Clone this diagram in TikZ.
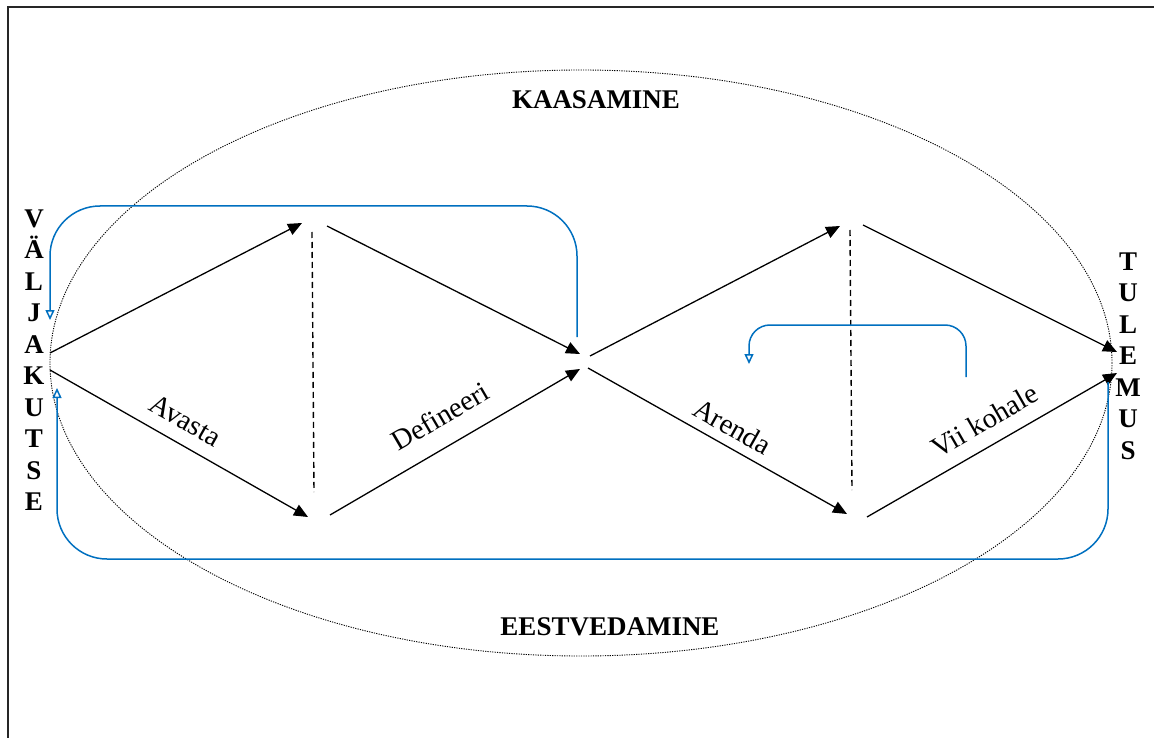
\documentclass[tikz,border=0pt]{standalone}
\usepackage{fontspec}
\setmainfont{Liberation Serif}
\usetikzlibrary{arrows.meta}
\definecolor{loopblue}{RGB}{0,112,192}
\begin{document}
\begin{tikzpicture}[x=1pt,y=-1pt,
  flow/.style={line width=1.3pt, -{Triangle[length=14pt,width=12pt]}},
  phase/.style={font=\fontsize{28.5}{32}\selectfont, sloped, inner sep=0pt},
  divider/.style={line width=1.4pt, dash pattern=on 6pt off 4pt},
  loop/.style={draw=loopblue, line width=1.5pt, -{Triangle[open,length=10pt,width=9pt]}},
  heading/.style={font=\fontsize{27}{31.5}\selectfont\bfseries, align=center, inner sep=0pt},
]
\useasboundingbox (0,0) rectangle (1154,738);
\fill[white] (0,0) rectangle (1154,738);
% page frame
\draw[line width=2pt, black!85] (8,738) -- (8,7) -- (1154,7);

% enclosing dotted ellipse
\draw[line width=0.9pt, dash pattern=on 1.2pt off 1.2pt] (581,363) ellipse [x radius=531pt, y radius=293pt];

% diamond end points
\coordinate (s1) at (50,353);  \coordinate (s2) at (50,370);
\coordinate (a1) at (302,223); \coordinate (a2) at (308,517);
\coordinate (b1) at (327,226); \coordinate (b2) at (330,515);
\coordinate (m1) at (580,354); \coordinate (m2) at (580,369);
\coordinate (c1) at (590,356); \coordinate (c2) at (588,368);
\coordinate (d1) at (840,226); \coordinate (d2) at (847,514);
\coordinate (e1) at (863,225); \coordinate (e2) at (867,517);
\coordinate (t1) at (1117,352); \coordinate (t2) at (1117,373);

% first diamond
\draw[flow] (s1) -- (a1);
\draw[flow] (s2) -- node[phase, above=13pt, pos=0.48] (lav) {Avasta} (a2);
\draw[flow] (b1) -- (m1);
\draw[flow] (b2) -- node[phase, above=19pt, pos=0.50] (ldef) {Defineeri} (m2);
% second diamond
\draw[flow] (c1) -- (d1);
\draw[flow] (c2) -- node[phase, above=9pt, pos=0.52] (lare) {Arenda} (d2);
\draw[flow] (e1) -- (t1);
\draw[flow] (e2) -- node[phase, above=14pt, pos=0.52] (lvii) {Vii kohale} (t2);

% vertical dividers
\coordinate (v1a) at (312,232); \coordinate (v1b) at (314,492);
\coordinate (v2a) at (850,230); \coordinate (v2b) at (852,490);
\draw[divider] (v1a) -- (v1b);
\draw[divider] (v2a) -- (v2b);

% feedback loops
\coordinate (r1s) at (577,337); \coordinate (r1c) at (50,206); \coordinate (r1e) at (50,320);
\draw[loop, rounded corners=50pt] (r1s) |- (r1c) -- (r1e);
\coordinate (r2s) at (1108,382); \coordinate (r2c) at (57,559); \coordinate (r2e) at (57,388);
\draw[loop, rounded corners=50pt] (r2s) |- (r2c) -- (r2e);
\coordinate (r3s) at (966,377); \coordinate (r3c) at (749,325); \coordinate (r3e) at (749,364);
\draw[loop, rounded corners=21pt] (r3s) |- (r3c) -- (r3e);

% headings
\node[heading] (kaas) at (596,100) {KAASAMINE};
\node[heading] (eest) at (610,627) {EESTVEDAMINE};
\node[heading] (valj) at (34,360) {V\\Ä\\L\\J\\A\\K\\U\\T\\S\\E};
\node[heading] (tule) at (1128,356) {T\\U\\L\\E\\M\\U\\S};
\end{tikzpicture}
\end{document}
